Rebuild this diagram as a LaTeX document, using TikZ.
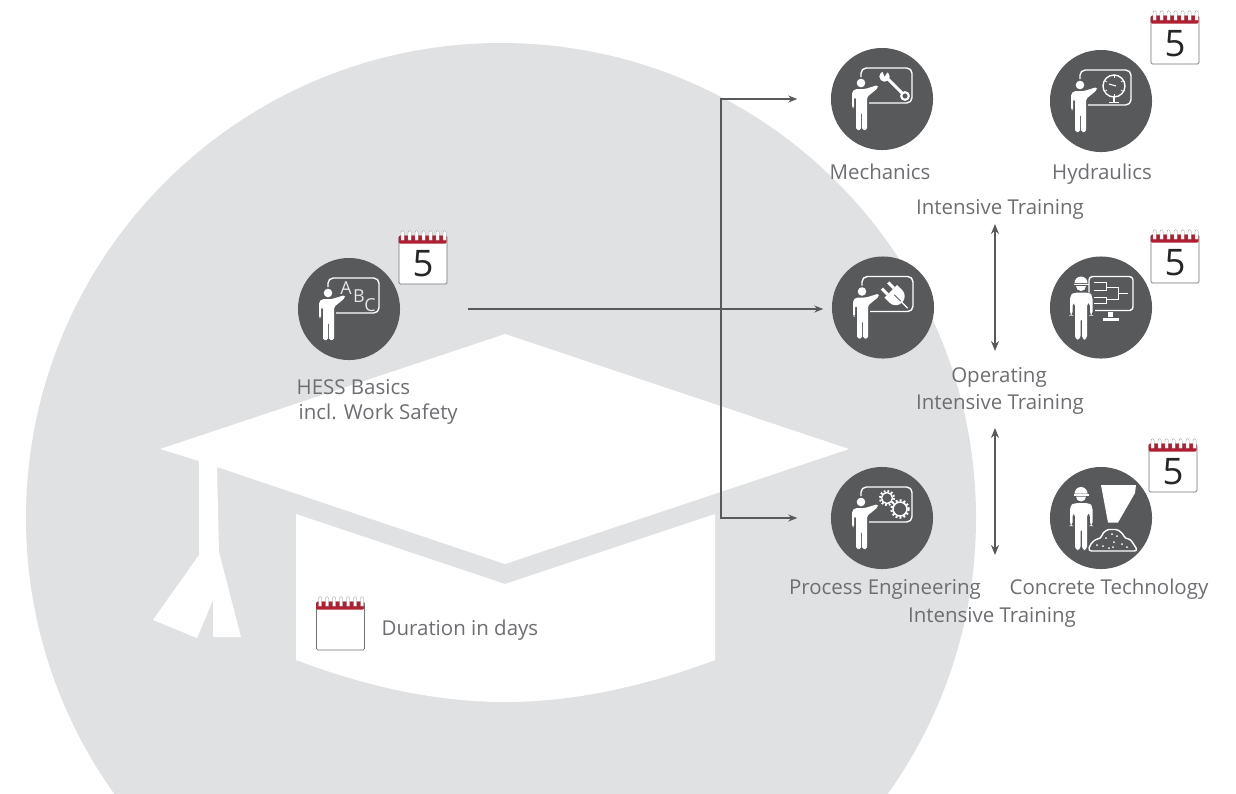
\documentclass[tikz,border=0pt]{standalone}
\usepackage{fontspec}
\setmainfont{Open Sans}
\usetikzlibrary{arrows.meta}

\definecolor{capgrey}{HTML}{E0E1E3}
\definecolor{icongrey}{HTML}{58595B}
\definecolor{textgrey}{HTML}{6D6E71}
\definecolor{calred}{HTML}{B01E32}

\tikzset{
    iconbg/.style={circle, fill=icongrey, minimum size=1.02cm, inner sep=0pt},
    lbl/.style={text=textgrey, font=\fontsize{5.82}{7}\selectfont, inner sep=0pt, text height=0.16cm, text depth=0.05cm},
    calbody/.style={draw=black!55, line width=0.2pt, fill=white, rounded corners=0.4pt,
        minimum width=0.48cm, minimum height=0.48cm, inner sep=0pt, text=black!85,
        text height=9.6pt, text depth=0pt, font=\fontsize{10.4}{12}\selectfont},
    ink/.style={draw=white, line width=0.4pt, line join=round},
    flow/.style={draw=icongrey, line width=0.3pt, -{Stealth[length=0.09cm, width=0.07cm]}},
    span/.style={draw=icongrey, line width=0.5pt, {Stealth[length=0.1cm, width=0.08cm]}-{Stealth[length=0.1cm, width=0.08cm]}},
}

% red band and rings on top of a calendar node
\newcommand{\calrings}[1]{
    \begin{scope}[shift={(#1.north west)}]
        \fill[calred, rounded corners=0.4pt] (0,8) -- (0,0) -- (48,0) -- (48,8) -- cycle;
        \foreach \i in {0,...,6}
            \filldraw[fill=white, draw=black!40, line width=0.1pt] (2.4+7*\i,4.5) -- (2.4+7*\i,-3)
                arc (180:360:1.6 and 2) -- (5.6+7*\i,4.5) -- cycle;
    \end{scope}
}

% teacher in front of a board
\newcommand{\teacher}[1]{
    \begin{scope}[shift={(#1)}]
        \fill[white] (-21,-16) circle (4.3);
        \fill[white, rounded corners=0.5pt] (-30,-7) -- (-30,9) -- (-28,9) -- (-28,-2) -- (-26,-2) -- (-26,31)
            -- (-21,31) -- (-21,13) -- (-20,13) -- (-20,31) -- (-15,31) -- (-15,-2) -- (-4,-11) -- (-4,-14)
            -- (-17,-10) -- (-27,-10) -- cycle;
        \draw[ink, rounded corners=1.5] (-21,-22) -- (-21,-31) -- (30,-31) -- (30,4) -- (-13,4);
    \end{scope}
}

% worker with a hard hat
\newcommand{\worker}[1]{
    \begin{scope}[shift={(#1)}]
        \fill[white] (-26.5,-24.5) arc (180:360:6.5 and 6.5) -- cycle;
        \fill[white] (-27.5,-24) rectangle (-12.5,-22.5);
        \fill[white] (-25,-21.5) arc (180:0:5 and 5) -- cycle;
        \fill[white, rounded corners=1pt] (-27,-15) -- (-31,-12) -- (-31,8) -- (-28.5,8) -- (-28.5,-5) -- (-26,-5)
            -- (-26,32) -- (-20.5,32) -- (-20.5,10) -- (-19,10) -- (-19,32) -- (-14,32) -- (-14,-5)
            -- (-11,-5) -- (-11,8) -- (-8.5,8) -- (-8.5,-12) -- (-12,-15) -- cycle;
    \end{scope}
}

\begin{document}
\begin{tikzpicture}[x=0.01cm, y=-0.01cm]
    \useasboundingbox (0,0) rectangle (1236,793);

    % background circle and cap
    \begin{scope}
        \clip (0,0) rectangle (1236,793);
        \fill[capgrey] (501,518) circle (475);
    \end{scope}
    \fill[white] (505,334) -- (849,449) -- (505,564) -- (217,467) -- (219,552) -- (241,637) -- (213,637)
        -- (213,600) -- (197,638) -- (153,620) -- (199,555) -- (199,461) -- (160,449) -- cycle;
    \fill[white] (296,514) -- (505,584) -- (715,514) -- (715,660) .. controls (640,688) and (570,702) .. (505,702)
        .. controls (440,702) and (370,688) .. (296,660) -- cycle;

    % icons
    \node[iconbg] (basics) at (349,309) {};
    \node[iconbg] (mech) at (882,99) {};
    \node[iconbg] (hyd) at (1101,101) {};
    \node[iconbg] (elec) at (883,307.5) {};
    \node[iconbg] (scada) at (1101,307.5) {};
    \node[iconbg] (proc) at (882,518) {};
    \node[iconbg] (conc) at (1101,518) {};

    \teacher{basics}
    \teacher{mech}
    \teacher{hyd}
    \teacher{elec}
    \teacher{proc}
    \worker{scada}
    \begin{scope}[shift={(-7,0)}]
        \worker{conc}
    \end{scope}

    % board content
    \node[text=white!90!black, font=\fontsize{5.1}{6}\selectfont, inner sep=0pt] (lettera) at (346,288) {A};
    \node[text=white!90!black, font=\fontsize{5.1}{6}\selectfont, inner sep=0pt] (letterb) at (359,296) {B};
    \node[text=white!90!black, font=\fontsize{5.1}{6}\selectfont, inner sep=0pt] (letterc) at (370,305) {C};

    \begin{scope}[shift={(mech)}]
        \draw[white, line width=0.85pt] (5,-21) -- (21,-5);
        \draw[ink, line width=0.6pt] (23,-3) circle (3.8);
        \fill[white] (2.5,-22.5) circle (5.2);
        \fill[icongrey] (2.5,-22.5) -- (-0.5,-30) -- (6.5,-28.5) -- cycle;
    \end{scope}

    \begin{scope}[shift={(hyd)}]
        \draw[ink] (13,-15) circle (11);
        \draw[ink] (13,-4) -- (13,1);
        \draw[ink] (8,1.5) -- (18,1.5);
        \draw[white, line width=0.3pt] (8,-17) -- (15,-15);
        \foreach \a in {30,90,150,210,270,330}
            \draw[white, line width=0.2pt] (13,-15) ++(\a:8) -- ++(\a:2);
    \end{scope}

    \begin{scope}[shift={(elec)}, shift={(12,-12)}, rotate=-45]
        \fill[white] (-6,-9) -- (-6,9) -- (1,9) arc (90:-90:9 and 9) -- cycle;
        \fill[white] (-14,-6) rectangle (-6,-3);
        \fill[white] (-14,3) rectangle (-6,6);
        \draw[white, line width=0.4pt] (8,0) -- (18,0);
        \draw[icongrey, line width=0.25pt] (-1,0) -- (8,0);
    \end{scope}

    \begin{scope}[shift={(proc)}]
        \draw[ink, line width=0.4pt] (5,-20) circle (5.5);
        \draw[white, line width=0.6pt, dash pattern=on 0.5pt off 0.55pt] (5,-20) circle (7);
        \draw[ink, line width=0.45pt] (18,-9) circle (7);
        \draw[white, line width=0.6pt, dash pattern=on 0.55pt off 0.6pt] (18,-9) circle (8.7);
    \end{scope}

    \begin{scope}[shift={(scada)}]
        \draw[ink, rounded corners=1] (-12,-15) -- (-12,-31) -- (32,-31) -- (32,3) -- (-6,3);
        \draw[white, line width=0.25pt] (-7,-25) -- (5,-25) -- (5,-17) -- (-7,-17);
        \draw[white, line width=0.25pt] (-7,-10) -- (5,-10) -- (5,-4) -- (-7,-4);
        \draw[white, line width=0.25pt] (5,-20) -- (17,-20) -- (17,-8) -- (5,-8);
        \draw[white, line width=0.25pt] (17,-14) -- (27,-14);
        \fill[white] (7,4.5) rectangle (12,9);
        \fill[white] (2,10.5) rectangle (18,13);
    \end{scope}

    \begin{scope}[shift={(conc)}]
        \fill[white] (0,-33) -- (35,-33) -- (34,-25) -- (17,4.5) -- (7,4.5) -- cycle;
        \draw[ink, rounded corners=1] (-13,33) .. controls (-10,24) and (-5,21) .. (0,21)
            .. controls (2,13) and (8,11.5) .. (11,11.5) .. controls (18,11.5) and (22,16) .. (24,21)
            .. controls (30,21) and (33,27) .. (37,33) -- cycle;
        \foreach \p in {(-4,27),(2,28),(5,20),(11,16),(13,24),(16,18),(21,26),(12,29),(26,29),(8,30)}
            \fill[white] \p circle (1);
    \end{scope}

    % calendars
    \node[calbody] (calbasics) at (423,260) {5};
    \node[calbody] (calhyd) at (1175,40) {5};
    \node[calbody] (calscada) at (1175,259) {5};
    \node[calbody] (calconc) at (1173,468) {5};
    \node[calbody] (callegend) at (340.5,626) {};
    \calrings{calbasics}
    \calrings{calhyd}
    \calrings{calscada}
    \calrings{calconc}
    \calrings{callegend}

    % labels
    \node[lbl, anchor=west] (lblbasics) at (296,388.5) {HESS Basics};
    \node[lbl, anchor=west] (lblsafety) at (298,413.5) {incl. Work Safety};
    \node[lbl] (lblmech) at (880,173.5) {Mechanics};
    \node[lbl] (lblhyd) at (1102,173.5) {Hydraulics};
    \node[lbl] (lbltop) at (1000,208.5) {Intensive Training};
    \node[lbl] (lblop) at (999,376.5) {Operating};
    \node[lbl] (lblmid) at (1000,403.5) {Intensive Training};
    \node[lbl] (lblproc) at (885,588.5) {Process Engineering};
    \node[lbl] (lblconc) at (1109,588.5) {Concrete Technology};
    \node[lbl] (lblbot) at (992,616.5) {Intensive Training};
    \node[lbl, anchor=west] (lbllegend) at (381,629.5) {Duration in days};

    % connectors
    \coordinate (split) at (721,309);
    \coordinate (upa) at (995,224);
    \coordinate (upb) at (995,351);
    \coordinate (dna) at (995,428);
    \coordinate (dnb) at (995,555);
    \coordinate (elecin) at (elec.west |- basics);
    \draw[flow, line width=0.36pt, shorten <=0.67cm, shorten >=0.08cm] (basics.east) -- (elecin);
    \draw[flow, shorten >=0.33cm] (split) |- (mech.west);
    \draw[flow, shorten >=0.33cm] (split) |- (proc.west);
    \draw[span] (upa) -- (upb);
    \draw[span] (dna) -- (dnb);
\end{tikzpicture}
\end{document}
